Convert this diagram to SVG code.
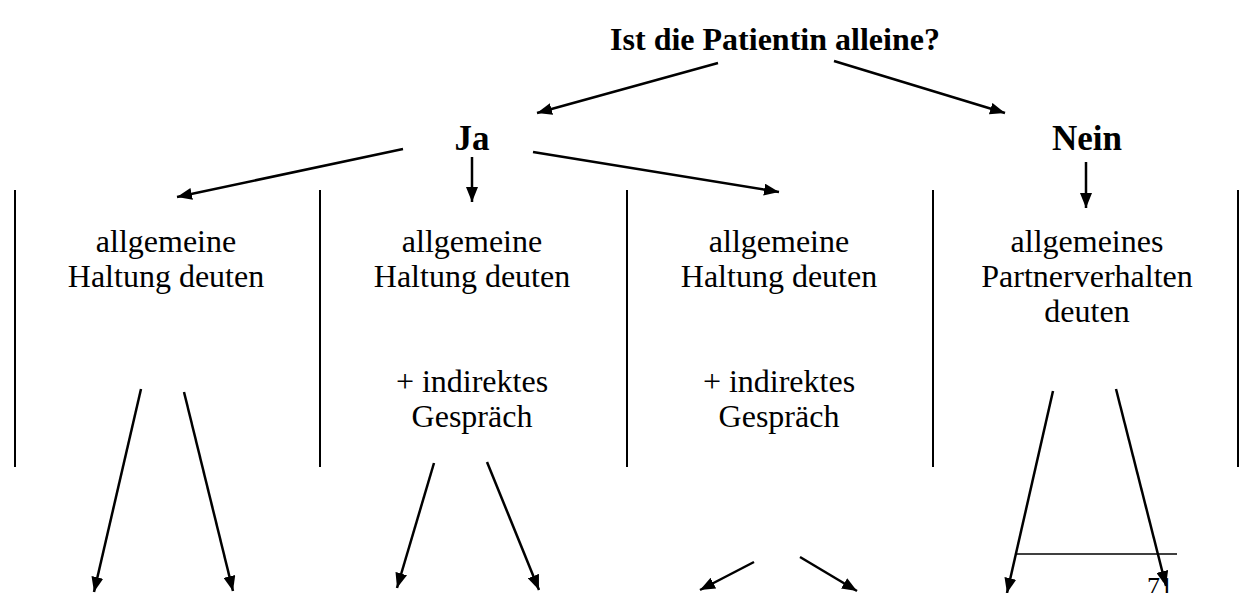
<svg xmlns="http://www.w3.org/2000/svg" width="1242" height="593" viewBox="0 0 1242 593">
<style>
text{font-family:"Liberation Serif","Times New Roman",serif;fill:#000;text-anchor:middle}
.b{font-weight:bold;font-size:32px}
.bb{font-weight:bold;font-size:35px}
.t{font-size:32px}
.c{stroke:#000;stroke-width:2.5;fill:none;marker-end:url(#ah)}
.sep{stroke:#000;stroke-width:2;fill:none}
</style>
<defs>
<marker id="ah" markerUnits="userSpaceOnUse" markerWidth="16" markerHeight="12" refX="15" refY="6" orient="auto">
<path d="M0,0 L15,6 L0,12 z" fill="#000"/>
</marker>
</defs>
<rect width="1242" height="593" fill="#fff"/>
<g id="title"><text class="b" x="775" y="50">Ist die Patientin alleine?</text></g>
<g id="ja"><text class="bb" x="472" y="150">Ja</text></g>
<g id="nein"><text class="bb" x="1087" y="150">Nein</text></g>
<g id="col1"><text class="t" x="166" y="252">allgemeine</text><text class="t" x="166" y="287">Haltung deuten</text></g>
<g id="col2"><text class="t" x="472" y="252">allgemeine</text><text class="t" x="472" y="287">Haltung deuten</text><text class="t" x="472" y="392">+ indirektes</text><text class="t" x="472" y="427">Gespräch</text></g>
<g id="col3"><text class="t" x="779" y="252">allgemeine</text><text class="t" x="779" y="287">Haltung deuten</text><text class="t" x="779" y="392">+ indirektes</text><text class="t" x="779" y="427">Gespräch</text></g>
<g id="col4"><text class="t" x="1087" y="252">allgemeines</text><text class="t" x="1087" y="287">Partnerverhalten</text><text class="t" x="1087" y="322">deuten</text></g>
<g id="separators">
<line class="sep" x1="15" y1="190" x2="15" y2="467"/>
<line class="sep" x1="320" y1="190" x2="320" y2="467"/>
<line class="sep" x1="627" y1="190" x2="627" y2="467"/>
<line class="sep" x1="933" y1="190" x2="933" y2="467"/>
<line class="sep" x1="1238" y1="190" x2="1238" y2="467"/>
<line stroke="#000" stroke-width="1.5" x1="1016" y1="554" x2="1177" y2="554"/>
</g>
<g id="page"><text x="1160" y="595" style="font-size:26px">71</text></g>
<g id="connectors">
<line class="c" x1="718" y1="63" x2="537" y2="113"/>
<line class="c" x1="834" y1="61" x2="1005" y2="113"/>
<line class="c" x1="403" y1="149" x2="177" y2="197"/>
<line class="c" x1="472" y1="157" x2="472" y2="202"/>
<line class="c" x1="533" y1="152" x2="779" y2="192"/>
<line class="c" x1="1086" y1="162" x2="1086" y2="208"/>
<line class="c" x1="141" y1="389" x2="94" y2="592"/>
<line class="c" x1="184" y1="392" x2="233" y2="591"/>
<line class="c" x1="434" y1="463" x2="397" y2="588"/>
<line class="c" x1="487" y1="462" x2="539" y2="590"/>
<line class="c" x1="754" y1="562" x2="700" y2="590"/>
<line class="c" x1="800" y1="557" x2="857" y2="591"/>
<line class="c" x1="1053" y1="391" x2="1007" y2="593"/>
<line class="c" x1="1116" y1="389" x2="1166" y2="586"/>
</g>
</svg>
